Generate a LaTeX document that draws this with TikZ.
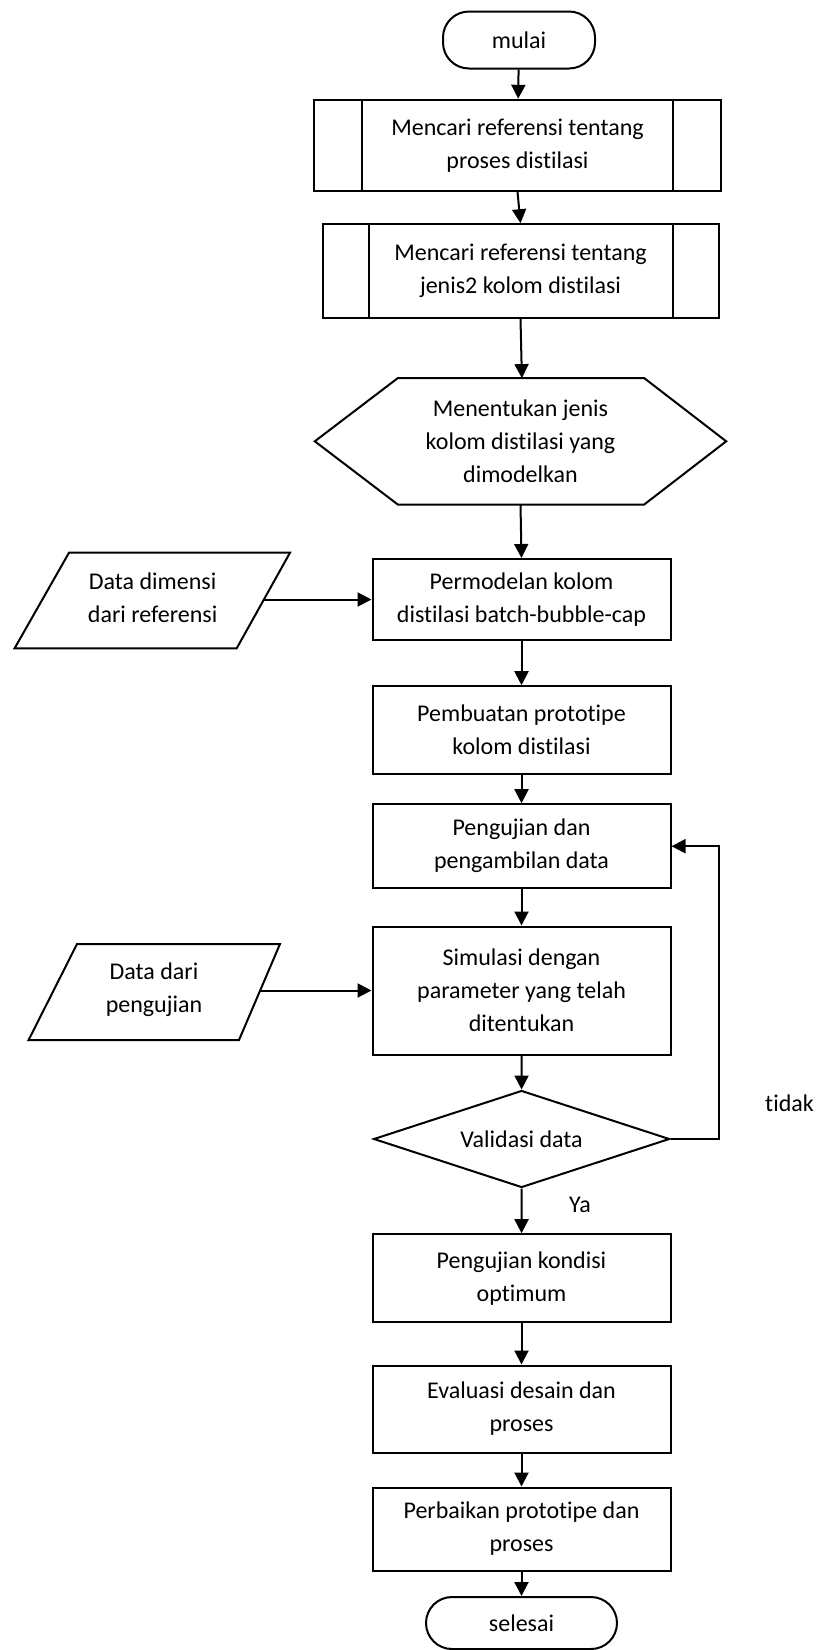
\documentclass[tikz,border=0pt]{standalone}
\usepackage{fontspec}
\setmainfont{Carlito}[Ligatures={NoCommon}]
\usetikzlibrary{shapes.geometric,arrows.meta}
\begin{document}
\begin{tikzpicture}[x=1pt,y=-1pt,
  every node/.style={font=\fontsize{24}{33}\selectfont, align=center, inner sep=0pt},
  line/.style={line width=2pt, draw=black},
  boxnode/.style={line, rectangle, minimum width=298pt},
  termnode/.style={line, rectangle, rounded corners=26pt},
  arr/.style={line width=2pt, -{Triangle[length=14pt,width=14pt]}}
]
\useasboundingbox (0,0) rectangle (816,1650);

% start
\node[termnode, minimum width=152pt, minimum height=57pt] (mulai) at (519,40) {mulai};

% predefined processes
\node[line, rectangle, minimum width=407pt, minimum height=91pt] (b1) at (517.5,145.3)
  {Mencari referensi tentang\\proses distilasi};
\draw[line] ([xshift=49pt]b1.north west) -- ([xshift=49pt]b1.south west);
\draw[line] ([xshift=-49pt]b1.north east) -- ([xshift=-49pt]b1.south east);

\node[line, rectangle, minimum width=396pt, minimum height=94pt] (b2) at (520.5,271.2)
  {Mencari referensi tentang\\jenis2 kolom distilasi};
\draw[line] ([xshift=47pt]b2.north west) -- ([xshift=47pt]b2.south west);
\draw[line] ([xshift=-47pt]b2.north east) -- ([xshift=-47pt]b2.south east);

% hexagon
\node[minimum width=411pt, minimum height=126pt] (hex) at (520.5,441.3)
  {Menentukan jenis\\kolom distilasi yang\\dimodelkan};
\draw[line, line join=miter] (hex.west) -- ([xshift=83pt]hex.north west) -- ([xshift=-82pt]hex.north east)
  -- (hex.east) -- ([xshift=-82pt]hex.south east) -- ([xshift=83pt]hex.south west) -- cycle;

% process boxes
\node[boxnode, minimum height=81pt] (perm) at (521.5,599.5)
  {Permodelan kolom\\distilasi batch-bubble-cap};
\node[boxnode, minimum height=88pt] (buat) at (521.5,730.2)
  {Pembuatan prototipe\\kolom distilasi};
\node[boxnode, minimum height=84pt] (peng) at (521.5,846.2)
  {Pengujian dan\\pengambilan data};
\node[boxnode, minimum height=128pt] (sim) at (521.5,990.5)
  {Simulasi dengan\\parameter yang telah\\ditentukan};

% data inputs
\draw[line, line join=miter] (69,552.7) -- (290,552.7) -- (236.7,648.3) -- (14.6,648.3) -- cycle;
\node (par1) at (152.6,598) {Data dimensi\\dari referensi};
\coordinate (p1e) at (263.4,599.5);

\draw[line, line join=miter] (77,944) -- (280,944) -- (239,1040) -- (28.6,1040) -- cycle;
\node (par2) at (154,990) {Data dari\\pengujian};
\coordinate (p2e) at (259.5,990.5);

% decision
\node[line, diamond, aspect=3.06, minimum width=296pt, minimum height=97pt] (dia) at (521.6,1139)
  {Validasi data};
\coordinate (loop) at (719,1139);
\node (tidak) at (789.5,1103) {tidak};
\node (ya) at (580,1205) {Ya};

\node[boxnode, minimum height=88pt] (kond) at (521.5,1278.2)
  {Pengujian kondisi\\optimum};
\node[boxnode, minimum height=87pt] (eval) at (521.5,1409)
  {Evaluasi desain dan\\proses};
\node[boxnode, minimum height=83pt] (perb) at (521.5,1529)
  {Perbaikan prototipe dan\\proses};
\node[termnode, minimum width=191pt, minimum height=52pt] (selesai) at (521.5,1623)
  {selesai};

% connectors
\draw[arr] (mulai) -- (b1);
\draw[arr] (b1.south) -- (b2.north);
\draw[arr] (b2.south) -- ([xshift=1.4pt]hex.north);
\draw[arr] (hex.south) -- (perm.north);
\draw[arr] (p1e) -- (perm.west);
\draw[arr] (perm) -- (buat);
\draw[arr] (buat) -- (peng);
\draw[arr] (peng) -- (sim);
\draw[arr] (p2e) -- (sim.west);
\draw[arr] (sim) -- (dia);
\draw[arr] (dia.east) -- (loop) |- (peng.east);
\draw[arr] (dia) -- (kond);
\draw[arr] (kond) -- (eval);
\draw[arr] (eval) -- (perb);
\draw[arr] (perb) -- (selesai);
\end{tikzpicture}
\end{document}
